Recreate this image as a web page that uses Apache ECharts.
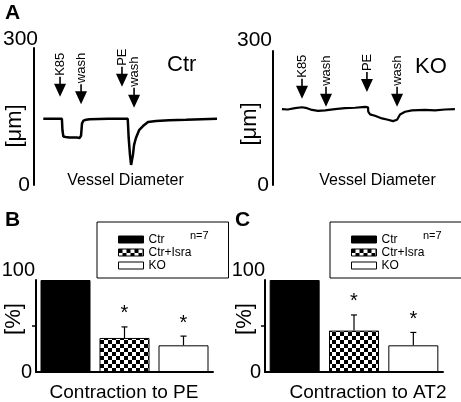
<!DOCTYPE html>
<html>
<head>
<meta charset="utf-8">
<script src="https://cdn.jsdelivr.net/npm/echarts@6/dist/echarts.min.js"></script>
<style>
  html, body { margin: 0; padding: 0; background: #fff; }
  #chart { width: 461px; height: 402px; }
</style>
</head>
<body>
<div id="chart"></div>
<script>
// ---------- data ----------
// Panel A, Ctr vessel diameter trace (time in arbitrary units, diameter in µm)
const ctrTime = [5, 10, 15, 15.3, 15.8, 17, 19, 21, 23, 24.6, 25.3, 25.8, 26.6, 28, 30, 40, 50.4, 50.9, 51.6, 52.2, 52.7, 53.2, 53.8, 54.8, 56.5, 58.6, 61.3, 65.6, 72.6, 81.7, 90, 98.4];
const ctrDiam = [145, 145, 145, 120, 106, 105, 104, 104, 104, 103, 108, 135, 141, 143, 144, 145, 145, 103, 66, 44, 46, 66, 88, 103, 120, 129, 138, 140, 142, 143, 144, 145];
// Panel A, KO vessel diameter trace
const koTime = [4.8, 8, 11.8, 15.6, 18.3, 21, 24.2, 28, 33.3, 38.7, 44.1, 49.5, 51.1, 51.2, 52.2, 54.8, 58.6, 61.8, 64.5, 66.7, 68.3, 71, 74.7, 81.7, 87.1, 92.5, 97.8];
const koDiam = [170, 169, 172, 174, 172, 168, 166, 167, 170, 172, 173, 175, 174, 164, 158, 155, 149, 146, 143, 146, 158, 164, 167, 168, 167, 169, 170];
// Drug application markers (arrows)
const ctrEventNames = ['K85', 'wash', 'PE', 'wash'];
const ctrEventTimes = [14, 25.3, 47.3, 53.8];
const ctrEventTips = [193, 177, 215, 169];
const koEventNames = ['K85', 'wash', 'PE', 'wash'];
const koEventTimes = [15.6, 28.5, 50.5, 66.7];
const koEventTips = [193, 175, 208, 175];
const diamTicks = [0, 300];
// Panels B and C
const groups = ['Ctr', 'Ctr+Isra', 'KO'];
const pePercent = [100, 37, 29];
const peErr = [0, 12, 10];
const at2Percent = [100, 45, 29];
const at2Err = [0, 17, 14];
const pctTicks = [0, 100];

// ---------- helpers ----------
const FONT = "'Liberation Sans', Arial, sans-serif";

function checker() {
  const c = document.createElement('canvas');
  c.width = 8; c.height = 8;
  const g = c.getContext('2d');
  g.fillStyle = '#fff'; g.fillRect(0, 0, 8, 8);
  g.fillStyle = '#000'; g.fillRect(0, 0, 4, 4); g.fillRect(4, 4, 4, 4);
  return c;
}
const checkerPattern = { image: checker(), repeat: 'repeat' };
const groupStyles = [
  { color: '#000', borderColor: '#000', borderWidth: 1 },
  { color: checkerPattern, borderColor: '#000', borderWidth: 1 },
  { color: '#fff', borderColor: '#000', borderWidth: 1 }
];

function pairs(xs, ys) { return xs.map((x, i) => [x, ys[i]]); }

const ARROW = 'path://M5.2,0 L6.8,0 L6.8,7 L12,7 L6,20 L0,7 L5.2,7 Z';
function markers(names, times, tips) {
  return {
    symbol: ARROW,
    symbolSize: [12, 20],
    symbolOffset: [0, '-50%'],
    itemStyle: { color: '#000' },
    label: {
      show: true, position: 'top', distance: 1, rotate: 90,
      align: 'left', verticalAlign: 'middle',
      formatter: '{b}', color: '#000', fontSize: 13, fontFamily: FONT
    },
    data: names.map((n, i) => ({ name: n, coord: [times[i], tips[i]] }))
  };
}

function yAxisFor(gridIndex, max, interval, fs, margin, topPad, zeroPad, tickVals) {
  return {
    gridIndex, type: 'value', min: 0, max, interval,
    axisLine: { show: true, lineStyle: { color: '#000', width: 2 } },
    axisTick: tickVals ? { show: true, length: 4, inside: false, customValues: tickVals, lineStyle: { color: '#000', width: 1.5 } } : { show: false },
    splitLine: { show: false },
    axisLabel: {
      show: true, margin,
      customValues: gridIndex < 2 ? diamTicks : pctTicks,
      formatter: v => (v === max ? '{top|' + v + '}' : (v === 0 ? '{zero|0}' : '')),
      rich: {
        top: { fontSize: fs, fontFamily: FONT, color: '#000', padding: [0, 0, topPad, 0] },
        zero: { fontSize: fs, fontFamily: FONT, color: '#000', padding: [0, zeroPad, 0, 0] }
      }
    }
  };
}

function barSeries(values, axisIdx) {
  return groups.map((name, k) => ({
    name, type: 'bar', xAxisIndex: axisIdx, yAxisIndex: axisIdx,
    barWidth: 50, barGap: '-100%',
    itemStyle: groupStyles[k],
    data: values.map((v, i) => (i === k ? v : '-'))
  }));
}

function errSeries(values, errs, axisIdx) {
  const data = values.map((v, i) => [i, v, errs[i]]).filter(d => d[2] > 0);
  return {
    type: 'custom', name: 'sem', xAxisIndex: axisIdx, yAxisIndex: axisIdx,
    data,
    renderItem: (params, api) => {
      const b = api.coord([api.value(0), api.value(1)]);
      const t = api.coord([api.value(0), api.value(1) + api.value(2)]);
      return {
        type: 'group', children: [
          { type: 'line', shape: { x1: b[0], y1: b[1], x2: t[0], y2: t[1] }, style: { stroke: '#000', lineWidth: 1.2 } },
          { type: 'line', shape: { x1: t[0] - 3, y1: t[1], x2: t[0] + 3, y2: t[1] }, style: { stroke: '#000', lineWidth: 1.2 } },
          { type: 'text', x: t[0], y: t[1] - 13, style: { text: '*', fill: '#000', font: '20px ' + FONT, align: 'center', verticalAlign: 'middle' } }
        ]
      };
    }
  };
}

function legendAt(left) {
  return {
    left, top: 222, orient: 'vertical', icon: 'rect',
    data: groups, itemWidth: 25, itemHeight: 7, itemGap: 1,
    padding: [11.5, 37, 6.5, 21],
    borderColor: '#000', borderWidth: 1, selectedMode: false,
    itemStyle: { borderColor: '#000', borderWidth: 1 },
    textStyle: { fontSize: 12, lineHeight: 12, color: '#000', fontFamily: FONT }
  };
}

function txt(x, y, text, size, o) {
  o = o || {};
  return {
    type: 'text', x, y, rotation: o.rot || 0, z: 10,
    style: {
      text, fill: '#000',
      font: (o.bold ? 'bold ' : '') + size + 'px ' + FONT,
      align: o.align || 'left', verticalAlign: 'middle'
    }
  };
}

const chart = echarts.init(document.getElementById('chart'), null, { renderer: 'canvas' });
chart.setOption({
  animation: false,
  backgroundColor: '#fff',
  grid: [
    { left: 34, top: 48, width: 186, height: 137, outerBoundsMode: 'none' },
    { left: 273, top: 51, width: 186, height: 134, outerBoundsMode: 'none' },
    { left: 36, top: 280, width: 177, height: 92, outerBoundsMode: 'none' },
    { left: 265, top: 280, width: 178, height: 92, outerBoundsMode: 'none' }
  ],
  xAxis: [
    { gridIndex: 0, type: 'value', min: 0, max: 100, show: false },
    { gridIndex: 1, type: 'value', min: 0, max: 100, show: false },
    { gridIndex: 2, type: 'category', data: groups, axisLine: { lineStyle: { color: '#000', width: 2 } }, axisTick: { show: false }, axisLabel: { show: false } },
    { gridIndex: 3, type: 'category', data: groups, axisLine: { lineStyle: { color: '#000', width: 2 } }, axisTick: { show: false }, axisLabel: { show: false } }
  ],
  yAxis: [
    yAxisFor(0, 300, 300, 21, -4, 17, 8, null),
    yAxisFor(1, 300, 300, 21, 1, 21, 3, null),
    yAxisFor(2, 100, 50, 20, 1, 19, 3, [50]),
    yAxisFor(3, 100, 50, 20, 0, 19, 4, [50])
  ],
  legend: [legendAt(97), legendAt(330)],
  series: [
    { name: 'Ctr diameter', type: 'line', xAxisIndex: 0, yAxisIndex: 0, showSymbol: false, silent: true,
      lineStyle: { color: '#000', width: 2.5 }, itemStyle: { color: '#000' },
      data: pairs(ctrTime, ctrDiam), markPoint: markers(ctrEventNames, ctrEventTimes, ctrEventTips) },
    { name: 'KO diameter', type: 'line', xAxisIndex: 1, yAxisIndex: 1, showSymbol: false, silent: true,
      lineStyle: { color: '#000', width: 2.2 }, itemStyle: { color: '#000' },
      data: pairs(koTime, koDiam), markPoint: markers(koEventNames, koEventTimes, koEventTips) },
    ...barSeries(pePercent, 2),
    errSeries(pePercent, peErr, 2),
    ...barSeries(at2Percent, 3),
    errSeries(at2Percent, at2Err, 3)
  ],
  graphic: [
    txt(5, 13, 'A', 21, { bold: true }),
    txt(5, 220, 'B', 21, { bold: true }),
    txt(235, 220, 'C', 21, { bold: true }),
    txt(167, 65, 'Ctr', 22),
    txt(415, 67, 'KO', 22),
    txt(125.5, 181, 'Vessel Diameter', 16, { align: 'center' }),
    txt(377.5, 181, 'Vessel Diameter', 16, { align: 'center' }),
    txt(15, 126, '[μm]', 22, { align: 'center', rot: Math.PI / 2 }),
    txt(250, 124, '[μm]', 22, { align: 'center', rot: Math.PI / 2 }),
    txt(14, 319, '[%]', 22, { align: 'center', rot: Math.PI / 2 }),
    txt(245, 319, '[%]', 22, { align: 'center', rot: Math.PI / 2 }),
    txt(124, 393, 'Contraction to PE', 19, { align: 'center' }),
    txt(368, 393, 'Contraction to AT2', 19, { align: 'center' }),
    txt(190, 236, 'n=7', 11),
    txt(423, 236, 'n=7', 11)
  ]
});
</script>
</body>
</html>
